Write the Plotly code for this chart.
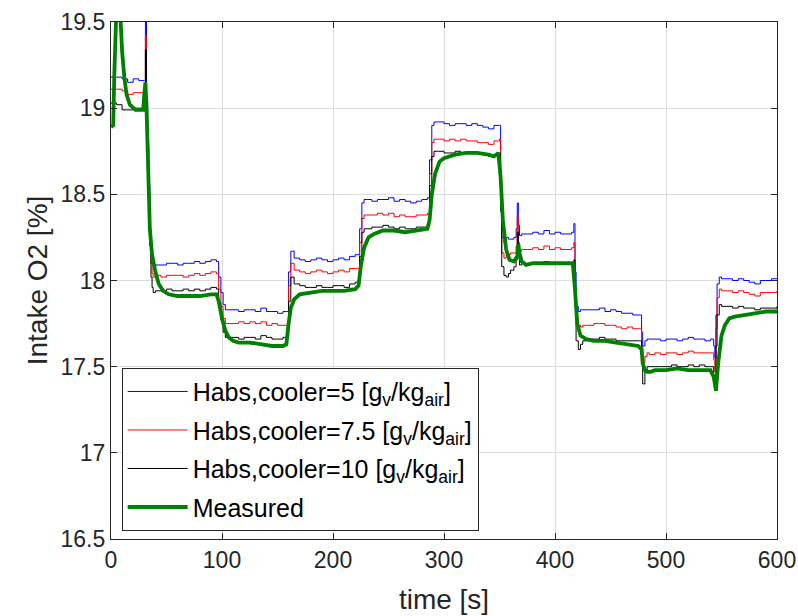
import plotly.graph_objects as go

# ---- model time grid (s) ----
t_model = [
    0, 5, 10, 15, 20, 25, 30,
    31, 32, 33, 34, 35, 36, 37, 38, 40,
    45, 50, 55, 60, 65, 70, 75, 80, 85, 90, 95,
    97, 99, 101, 103, 105,
    110, 115, 120, 125, 130, 135, 140, 145, 150, 155,
    158, 160, 162, 165,
    170, 175, 180, 185, 190, 195, 200, 205, 210, 215, 220,
    222, 224, 226, 228,
    230, 235, 240, 245, 250, 255, 260, 265, 270, 275, 280, 285,
    287, 289, 291,
    295, 300, 305, 310, 315, 320, 325, 330, 335, 340, 345, 350,
    351, 352, 354, 356, 358, 360, 363, 365, 366, 367, 368, 370,
    375, 380, 385, 390, 395, 400, 405, 410, 415,
    417, 418, 419, 421, 423, 425,
    430, 435, 440, 445, 450, 455, 460, 465, 470, 475,
    477, 478, 479, 481, 483, 485,
    490, 495, 500, 505, 510, 515, 520, 525, 530, 535, 540,
    543, 544, 545, 546, 548, 550,
    555, 560, 565, 570, 575, 580, 585, 590, 595, 600,
]

o2_h5 = [
    19.18, 19.18, 19.17, 19.15, 19.17, 19.16, 19.16,
    19.56, 19.05, 18.80, 18.55, 18.30, 18.15, 18.10, 18.09, 18.09,
    18.09, 18.10, 18.10, 18.09, 18.10, 18.10, 18.11, 18.10, 18.11, 18.12, 18.11,
    18.02, 17.93, 17.86, 17.83, 17.83,
    17.83, 17.82, 17.83, 17.83, 17.82, 17.84, 17.82, 17.82, 17.81, 17.82,
    17.82, 18.05, 18.17, 18.13,
    18.12, 18.11, 18.12, 18.13, 18.12, 18.11, 18.12, 18.13, 18.12, 18.14, 18.15,
    18.15, 18.30, 18.45, 18.47,
    18.47, 18.46, 18.47, 18.47, 18.48, 18.46, 18.47, 18.46, 18.45, 18.46, 18.47, 18.48,
    18.70, 18.90, 18.92,
    18.92, 18.91, 18.90, 18.91, 18.91, 18.90, 18.91, 18.90, 18.89, 18.88, 18.90, 18.90,
    18.55, 18.25, 18.22, 18.25, 18.24, 18.24, 18.25, 18.30, 18.45, 18.32, 18.26, 18.27,
    18.27, 18.28, 18.27, 18.29, 18.27, 18.28, 18.27, 18.27, 18.28,
    18.33, 18.05, 17.85, 17.82, 17.83, 17.83,
    17.83, 17.83, 17.84, 17.82, 17.83, 17.82, 17.81, 17.81, 17.80, 17.80,
    17.80, 17.70, 17.62, 17.65, 17.66, 17.66,
    17.66, 17.65, 17.66, 17.66, 17.65, 17.66, 17.67, 17.66, 17.66, 17.65, 17.66,
    17.62, 17.55, 17.80, 17.98, 18.02, 18.01,
    18.01, 18.00, 18.01, 18.00, 17.99, 17.98, 18.00, 18.00, 18.01, 18.01,
]

o2_h75 = [
    19.11, 19.11, 19.10, 19.08, 19.09, 19.09, 19.08,
    19.42, 19.00, 18.75, 18.50, 18.25, 18.10, 18.04, 18.02, 18.03,
    18.02, 18.03, 18.03, 18.03, 18.02, 18.03, 18.04, 18.03, 18.04, 18.05, 18.04,
    17.95, 17.85, 17.78, 17.75, 17.75,
    17.75, 17.76, 17.75, 17.76, 17.75, 17.76, 17.74, 17.75, 17.74, 17.74,
    17.74, 17.97, 18.10, 18.06,
    18.05, 18.04, 18.05, 18.06, 18.05, 18.04, 18.05, 18.06, 18.05, 18.07, 18.07,
    18.07, 18.22, 18.36, 18.38,
    18.38, 18.38, 18.39, 18.38, 18.39, 18.37, 18.38, 18.37, 18.37, 18.38, 18.38, 18.39,
    18.62, 18.80, 18.82,
    18.82, 18.81, 18.82, 18.81, 18.82, 18.81, 18.81, 18.80, 18.80, 18.79, 18.81, 18.82,
    18.48, 18.16, 18.13, 18.15, 18.15, 18.16, 18.16, 18.20, 18.37, 18.22, 18.17, 18.18,
    18.18, 18.19, 18.18, 18.20, 18.18, 18.19, 18.18, 18.18, 18.19,
    18.22, 17.95, 17.78, 17.74, 17.73, 17.74,
    17.74, 17.75, 17.75, 17.74, 17.74, 17.73, 17.72, 17.73, 17.72, 17.72,
    17.72, 17.62, 17.52, 17.56, 17.58, 17.57,
    17.58, 17.57, 17.58, 17.58, 17.57, 17.58, 17.59, 17.58, 17.58, 17.58, 17.58,
    17.54, 17.47, 17.72, 17.90, 17.95, 17.94,
    17.94, 17.93, 17.94, 17.93, 17.92, 17.91, 17.93, 17.93, 17.93, 17.94,
]

o2_h10 = [
    19.03, 19.02, 18.99, 18.99, 19.00, 19.00, 18.99,
    19.34, 18.95, 18.70, 18.45, 18.20, 18.02, 17.96, 17.93, 17.94,
    17.94, 17.95, 17.94, 17.94, 17.95, 17.94, 17.95, 17.94, 17.95, 17.96, 17.95,
    17.87, 17.77, 17.70, 17.67, 17.67,
    17.67, 17.66, 17.67, 17.67, 17.66, 17.68, 17.67, 17.66, 17.66, 17.67,
    17.67, 17.88, 18.02, 17.98,
    17.97, 17.96, 17.96, 17.97, 17.96, 17.96, 17.97, 17.97, 17.96, 17.98, 17.99,
    17.99, 18.14, 18.28, 18.30,
    18.30, 18.31, 18.31, 18.32, 18.31, 18.30, 18.31, 18.30, 18.30, 18.31, 18.31, 18.32,
    18.55, 18.72, 18.75,
    18.75, 18.74, 18.74, 18.75, 18.74, 18.74, 18.74, 18.74, 18.73, 18.72, 18.73, 18.74,
    18.40, 18.08, 18.03, 18.02, 18.04, 18.06, 18.08, 18.12, 18.28, 18.13, 18.09, 18.10,
    18.10, 18.10, 18.10, 18.11, 18.10, 18.10, 18.10, 18.10, 18.10,
    18.12, 17.85, 17.65, 17.60, 17.63, 17.65,
    17.66, 17.66, 17.67, 17.66, 17.66, 17.65, 17.65, 17.65, 17.65, 17.65,
    17.65, 17.52, 17.40, 17.47, 17.50, 17.50,
    17.50, 17.50, 17.50, 17.51, 17.50, 17.50, 17.51, 17.50, 17.51, 17.50, 17.50,
    17.45, 17.38, 17.62, 17.80, 17.86, 17.85,
    17.85, 17.84, 17.85, 17.84, 17.84, 17.83, 17.84, 17.84, 17.84, 17.85,
]

# ---- measured ----
t_meas = [
    0, 2, 3, 4, 6, 8, 10, 12, 14, 17, 22, 26, 29, 30, 31, 32, 33, 34, 35, 37,
    40, 43, 47, 52, 60, 70, 80, 90, 95, 97, 100, 103, 106, 110, 115, 125, 135,
    145, 155, 158, 160, 162, 165, 170, 180, 190, 200, 210, 220, 223, 225, 228,
    232, 237, 245, 255, 265, 275, 285, 287, 289, 292, 296, 300, 310, 320, 330,
    340, 345, 349, 351, 353, 356, 359, 363, 366, 367, 368, 370, 374, 380, 390,
    400, 410, 416, 418, 420, 423, 428, 435, 445, 455, 465, 475, 478, 479, 481,
    483, 486, 490, 500, 510, 520, 530, 540, 543, 545, 547, 550, 553, 557, 562,
    570, 580, 590, 600,
]
o2_meas = [
    18.89, 18.90, 19.20, 19.60, 19.80, 19.60, 19.33, 19.18, 19.08, 19.02, 18.99,
    18.99, 18.99, 19.08, 19.15, 19.00, 18.75, 18.50, 18.30, 18.15,
    18.05, 17.98, 17.94, 17.92, 17.91, 17.91, 17.91, 17.92, 17.92, 17.88, 17.78,
    17.71, 17.67, 17.65, 17.64, 17.64, 17.63,
    17.62, 17.62, 17.63, 17.75, 17.84, 17.89, 17.92, 17.93, 17.94, 17.94, 17.94,
    17.95, 17.97, 18.08, 18.19,
    18.25, 18.27, 18.29, 18.29, 18.28, 18.29, 18.30, 18.35, 18.50, 18.62, 18.69,
    18.71, 18.73, 18.74, 18.74,
    18.73, 18.72, 18.74, 18.60, 18.35, 18.18, 18.12, 18.11, 18.14, 18.21, 18.16,
    18.11, 18.09, 18.10, 18.10,
    18.10, 18.10, 18.10, 17.95, 17.75, 17.68, 17.66, 17.65, 17.65, 17.64, 17.63,
    17.62, 17.60, 17.52, 17.48,
    17.47, 17.47, 17.48, 17.48, 17.49, 17.48, 17.48, 17.48, 17.44, 17.36, 17.52,
    17.68, 17.74, 17.78, 17.79,
    17.80, 17.81, 17.82, 17.82,
]

names = [
    "Habs,cooler=5 [g<sub>v</sub>/kg<sub>air</sub>]",
    "Habs,cooler=7.5 [g<sub>v</sub>/kg<sub>air</sub>]",
    "Habs,cooler=10 [g<sub>v</sub>/kg<sub>air</sub>]",
    "Measured",
]
x_ticks = [0, 100, 200, 300, 400, 500, 600]
y_ticks = [16.5, 17, 17.5, 18, 18.5, 19, 19.5]
y_ticktext = ["16.5", "17", "17.5", "18", "18.5", "19", "19.5"]

assert len(t_model) == len(o2_h5) == len(o2_h75) == len(o2_h10)
assert len(t_meas) == len(o2_meas)

fig = go.Figure()
for i, (vals, col) in enumerate([(o2_h5, "#0000FF"),
                                 (o2_h75, "#FF0000"),
                                 (o2_h10, "#000000")]):
    fig.add_trace(go.Scatter(x=t_model, y=vals, mode="lines", name=names[i],
                             legendgroup=f"g{i}",
                             line=dict(color=col, width=1, shape="hv")))
fig.add_trace(go.Scatter(x=t_meas, y=o2_meas, mode="lines", name=names[3],
                         legendgroup="g3",
                         line=dict(color="#008000", width=3.8)))

font_family = "Liberation Sans, Arial, Helvetica, sans-serif"
axis_common = dict(
    showline=True, linecolor="#262626", linewidth=1.2, mirror="allticks",
    ticks="inside", ticklen=6, tickcolor="#262626",
    showgrid=True, gridcolor="#DCDCDC", gridwidth=1, zeroline=False,
    automargin=False,
    tickfont=dict(size=23, color="#262626", family=font_family),
)
fig.update_xaxes(range=[0, 600], tickvals=x_ticks,
                 ticktext=[str(v) for v in x_ticks],
                 title=dict(text="time [s]", font=dict(size=28, color="#262626",
                                                      family=font_family), standoff=17),
                 **axis_common)
fig.update_yaxes(range=[16.5, 19.5], tickvals=y_ticks, ticktext=y_ticktext,
                 title=dict(text="Intake O2 [%]", font=dict(size=28, color="#262626",
                                                           family=font_family), standoff=4),
                 **axis_common)

fig.update_layout(
    width=798, height=616,
    margin=dict(l=111, r=21, t=22, b=77),
    paper_bgcolor="white", plot_bgcolor="white",
    font=dict(family=font_family, color="#262626"),
    showlegend=True,
    legend=dict(x=0.016, y=0.016, xanchor="left", yanchor="bottom",
                bgcolor="white", bordercolor="#262626", borderwidth=1,
                font=dict(size=25, color="#000000", family=font_family),
                tracegroupgap=3, itemwidth=60),
)

fig.write_html("out.html", config={"displayModeBar": False},
               post_script="document.body.style.margin='0';")
